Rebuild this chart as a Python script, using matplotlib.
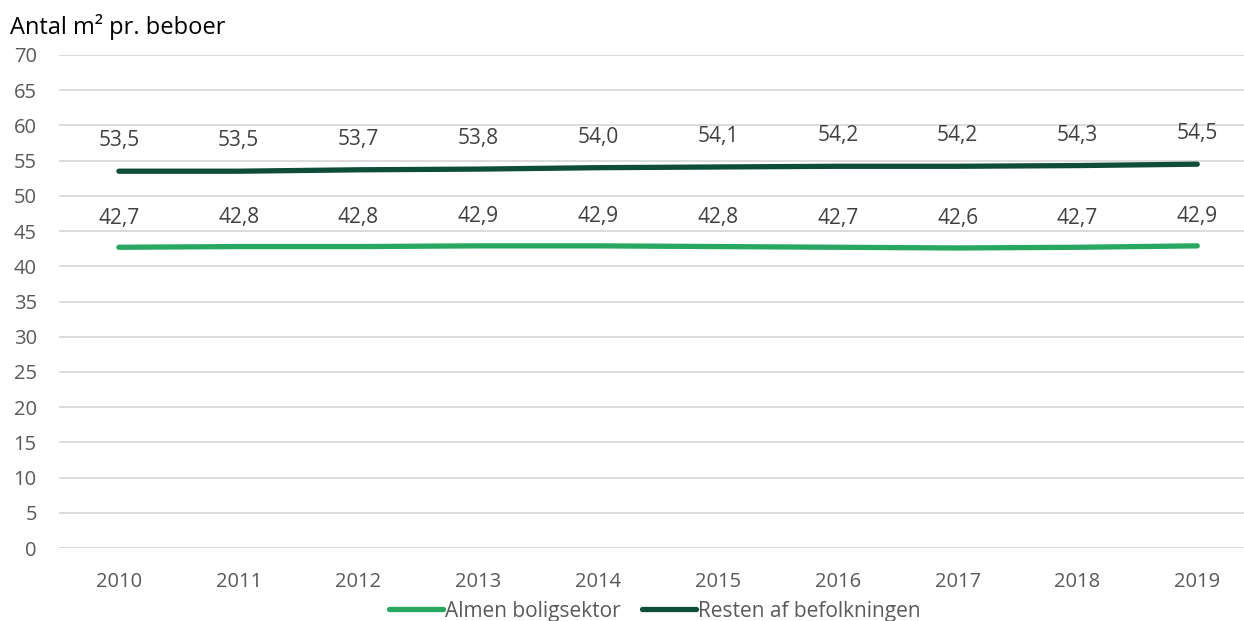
import matplotlib
matplotlib.use("Agg")
import matplotlib.pyplot as plt

plt.rcParams['font.family'] = ['Open Sans', 'DejaVu Sans']

# data
years = ['2010', '2011', '2012', '2013', '2014', '2015', '2016', '2017', '2018', '2019']
almen = [42.7, 42.8, 42.8, 42.9, 42.9, 42.8, 42.7, 42.6, 42.7, 42.9]
resten = [53.5, 53.5, 53.7, 53.8, 54.0, 54.1, 54.2, 54.2, 54.3, 54.5]
yticks = list(range(0, 75, 5))

c_almen = '#27A760'
c_resten = '#0E4D3A'
gray = '#595959'

fig = plt.figure(figsize=(12.44, 6.21), dpi=100)
ax = fig.add_axes([59 / 1244, 73 / 621, (1244 - 59) / 1244, 493 / 621])

x = list(range(len(years)))
ax.plot(x, almen, color=c_almen, lw=3.8, solid_capstyle='round', label='Almen boligsektor', zorder=3)
ax.plot(x, resten, color=c_resten, lw=3.8, solid_capstyle='round', label='Resten af befolkningen', zorder=3)

for xi, v in zip(x, almen):
    ax.annotate(f"{v:.1f}".replace('.', ','), (xi, v), xytext=(0, 21), textcoords='offset points',
                ha='center', va='center', fontsize=15, color='#404040')
for xi, v in zip(x, resten):
    ax.annotate(f"{v:.1f}".replace('.', ','), (xi, v), xytext=(0, 22), textcoords='offset points',
                ha='center', va='center', fontsize=15, color='#404040')

ax.set_ylim(0, 70)
ax.set_xlim(-0.5, 9.39)
ax.set_yticks(yticks)
ax.set_xticks(x)
ax.set_xticklabels(years)
ax.grid(axis='y', color='#D9D9D9', lw=1.3)
ax.set_axisbelow(True)
for s in ax.spines.values():
    s.set_visible(False)
ax.tick_params(axis='both', length=0, labelsize=14.5, colors=gray)
ax.tick_params(axis='y', pad=16)
ax.tick_params(axis='x', pad=17)

fig.text(10 / 1244, 1 - 27 / 621, 'Antal m\u00b2 pr. beboer', fontsize=17, color='black', va='center', ha='left')

leg = fig.legend(loc='center', bbox_to_anchor=(655 / 1244, 1 - 611 / 621), ncol=2, frameon=False,
                 fontsize=15, handlelength=2.6, handletextpad=0.1, columnspacing=1.0,
                 labelcolor=gray)

fig.savefig('out.png', dpi=100)
